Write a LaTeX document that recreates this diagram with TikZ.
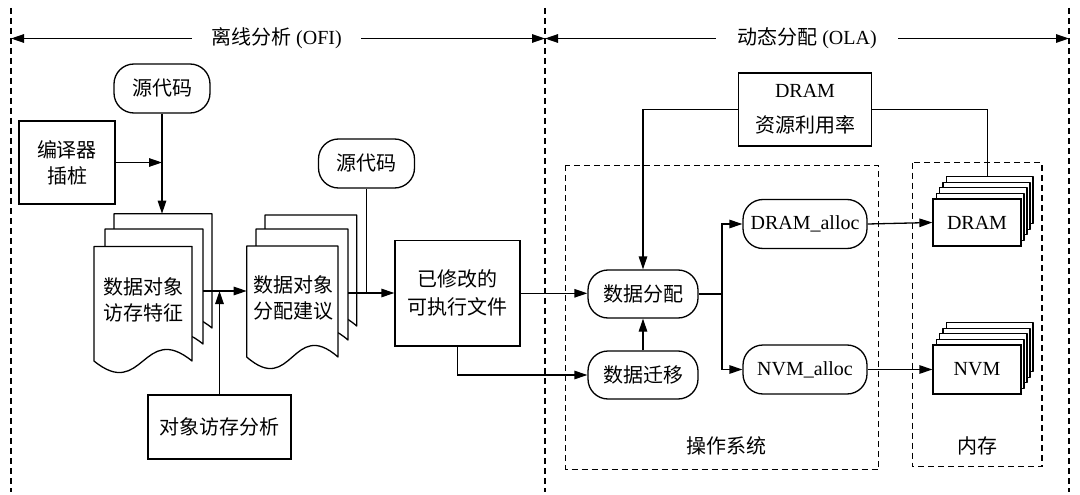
\documentclass[tikz,border=0pt]{standalone}
\usepackage{fontspec}
\setmainfont{Liberation Serif}
\newfontfamily\cjk{Noto Sans CJK SC}
\usetikzlibrary{arrows.meta,calc}
\newcommand\docsheet[4]{% x0 x1 top yb
  \filldraw[sheet] (#1,#3) -- (#2,#3) -- (#2,#4)
    .. controls ({(#1+#2)/2},{#4-40}) and ({(#1+#2)/2},{#4+40}) .. (#1,#4) -- cycle;}
\begin{document}
\begin{tikzpicture}[x=1pt,y=-1pt,
  line width=1.3pt,
  every node/.style={font=\fontsize{20}{26}\selectfont},
  cjkf/.style={font=\fontsize{20}{26}\selectfont\cjk},
  arr/.style={-{Triangle[length=13pt,width=8.5pt]}},
  box/.style={draw, fill=white, align=center, inner sep=0pt},
  rbox/.style={draw, fill=white, rounded corners=20pt, align=center, inner sep=0pt},
  sep/.style={dash pattern=on 6pt off 4pt, line width=1.1pt},
  sheet/.style={draw, fill=white, line join=round}
]
\useasboundingbox (0,0) rectangle (1080,495);

% separators
\draw[sep] (11,8) -- (11,492);
\draw[sep] (545,8) -- (545,492);
\draw[sep] (1069,8) -- (1069,492);
\draw[sep] (565.8,165.3) rectangle (878.5,469.6);
\draw[sep] (912.6,162.5) rectangle (1042,466.8);

% titles
\node[inner xsep=19pt] (t1) at (276.5,38.5) {{\cjk 离线分析} (OFI)};
\node[inner xsep=21pt] (t2) at (807,38.5) {{\cjk 动态分配} (OLA)};
\coordinate (L) at (11,38.5);
\coordinate (M) at (545,38.5);
\coordinate (R) at (1069,38.5);
\draw[arr] (t1.west) -- (L);
\draw[arr] (t1.east) -- (M);
\draw[arr] (t2.west) -- (M);
\draw[arr] (t2.east) -- (R);

% offline part
\node[rbox, cjkf, minimum width=96pt, minimum height=49pt] (src1) at (162,88.5) {源代码};
\node[box, cjkf, minimum width=96pt, minimum height=83pt] (comp) at (67,162.5) {编译器\\插桩};
\node[rbox, cjkf, minimum width=96pt, minimum height=49pt] (src2) at (366.5,163.5) {源代码};

% stack 1
\docsheet{114}{212}{213.7}{328}
\docsheet{105}{203}{229}{344}
\docsheet{94}{192}{246.4}{361}
\node[cjkf, align=center, inner sep=0pt, minimum width=98pt, minimum height=106pt, anchor=north west] (s1) at (94,246.4) {数据对象\\访存特征};
% stack 2
\docsheet{265}{356.7}{215}{326}
\docsheet{256}{348}{229}{340}
\docsheet{246.7}{338}{246}{357}
\node[cjkf, align=center, inner sep=0pt, minimum width=91.3pt, minimum height=102pt, anchor=north west] (s2) at (246.7,246) {数据对象\\分配建议};

\node[box, cjkf, minimum width=125pt, minimum height=105.5pt] (exe) at (457.5,293.3) {已修改的\\[2pt]可执行文件};
\node[box, cjkf, minimum width=143pt, minimum height=64pt] (ana) at (219.5,427) {对象访存分析};

\coordinate (s1top) at (162,213.7);
\coordinate (s1o) at (203,291);
\coordinate (s2o) at (348,293);
\draw[arr] (src1.south) -- (s1top);
\draw[arr] (comp.east) -- (comp.east -| src1.south);
\draw[arr] (s1o) -- (s1o -| s2.west);
\draw[arr] (ana.north) -- (ana.north |- s1o);
\draw[arr] (s2o) -- (s2o -| exe.west);
\draw (src2.south) -- (src2.south |- s2o);

% online part
\node[box, minimum width=133.6pt, minimum height=73pt] (res) at (805,109.5) {DRAM\\[9pt]{\cjk 资源利用率}};
\node[rbox, cjkf, minimum width=110pt, minimum height=48pt] (alloc) at (643,294) {数据分配};
\node[rbox, cjkf, minimum width=110pt, minimum height=48pt] (mig) at (643,375) {数据迁移};
\node[rbox, minimum width=124pt, minimum height=49pt] (dalloc) at (805,224) {DRAM\_alloc};
\node[rbox, minimum width=124pt, minimum height=49pt] (nalloc) at (805,369.5) {NVM\_alloc};

\foreach \k in {4,3,2,1} {
  \filldraw[sheet] ({933+3.3*\k},{199-5.6*\k}) rectangle ({1021+3*\k},{246-5.6*\k});
  \filldraw[sheet] ({933+3.3*\k},{345-5.6*\k}) rectangle ({1021+3*\k},{394-5.6*\k});
}
\node[box, minimum width=88pt, minimum height=47pt] (dram) at (977,222.5) {DRAM};
\node[box, minimum width=88pt, minimum height=49pt] (nvm) at (977,369.5) {NVM};

\node[cjkf] (oslab) at (726,445.5) {操作系统};
\node[cjkf] (memlab) at (977,445.5) {内存};

\coordinate (dtop) at (987.7,176.6);
\coordinate (br) at (722,294);
\draw[arr] (exe.east) -- (exe.east -| alloc.west);
\draw[arr] (exe.south) |- (mig.west);
\draw[arr] (mig.north) -- (alloc.south);
\draw[arr] (res.west) -| (alloc.north);
\draw (res.east) -| (dtop);
\draw (alloc.east) -- (br);
\draw[arr] (br) |- (dalloc.west);
\draw[arr] (br) |- (nalloc.west);
\draw[arr] (dalloc.east) -- (dram.west);
\draw[arr] (nalloc.east) -- (nvm.west);
\end{tikzpicture}
\end{document}
